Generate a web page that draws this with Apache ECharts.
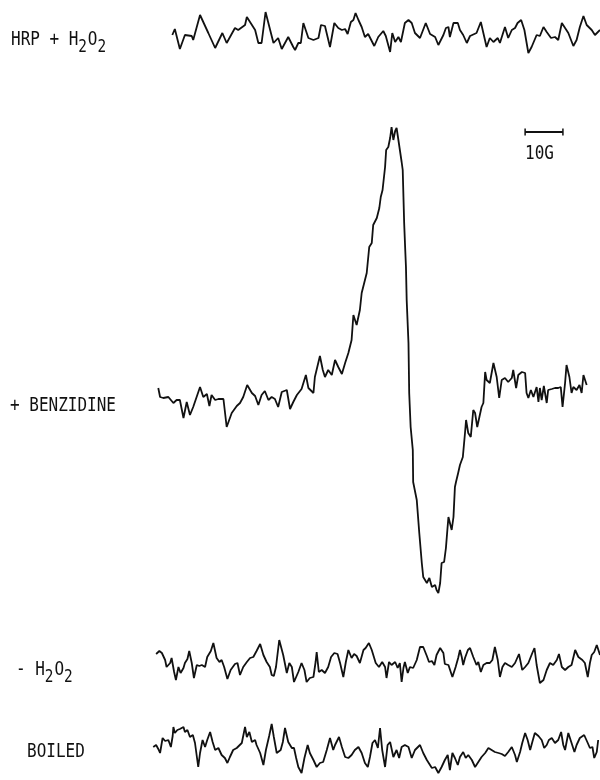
<!DOCTYPE html>
<html>
<head>
<meta charset="utf-8">
<script src="https://cdn.jsdelivr.net/npm/echarts/dist/echarts.min.js"></script>
<style>
html, body { margin: 0; background: #fff; }
#chart { width: 600px; height: 780px; }
</style>
</head>
<body>
<div id="chart"></div>
<script>
// magnetic field (G, from left end of sweep) and signal (arb. units)
const hrpField = [6.2,6.9,8.3,9.7,11.6,12.0,13.9,16.2,16.7,18.1,20.1,21.3,23.6,24.5,26.4,26.9,29.2,30.1,31.0,32.1,34.3,35.6,36.6,38.4,39.8,40.3,41.2,41.9,42.6,44.0,45.4,46.8,47.5,48.6,50.0,51.2,52.3,53.3,54.2,54.9,55.8,56.5,57.1,57.9,58.8,59.7,60.6,61.1,62.3,63.4,64.8,65.5,66.7,67.3,68.1,69.0,69.7,70.8,71.8,72.7,73.6,75.0,76.6,77.8,79.2,80.1,81.5,82.2,82.9,83.3,84.3,85.5,86.1,87.0,88.0,88.9,90.7,91.2,91.9,92.6,93.5,94.4,95.4,96.6,97.2,98.6,99.5,100.5,101.4,102.1,103.1,104.0,105.1,106.0,107.4,108.3,109.3,110.2,111.4,112.5,113.4,114.4,115.3,116.2,117.6,118.5,119.4,120.4,121.3,122.7,123.6,125.0]
const hrpSignal = [0,6,-14,0,-1,-5,20,2,2,-13,2,-8,7,5,10,18,5,-8,-8,23,-8,-3,-14,-2,-12,-15,-8,-8,12,-3,-5,-3,10,9,-12,12,7,5,6,1,13,15,22,15,8,-2,1,0,-11,-2,4,-1,-17,2,-7,-2,-7,12,15,12,2,-3,12,1,-2,-10,0,7,8,-2,12,12,5,0,-8,-1,2,3,13,2,-12,-3,-7,-3,-8,8,-3,5,7,12,15,5,-18,-12,0,-1,8,3,-3,-2,-5,12,7,2,-11,-5,8,19,10,5,0,5]

const benzField = [2.3,2.8,3.7,5.1,6.5,7.4,8.3,9.3,10.2,11.1,12.0,13.9,14.8,15.8,16.5,17.1,18.1,19.0,20.4,21.3,22.7,24.1,25.0,25.9,27.0,28.3,29.2,30.1,31.0,31.9,32.9,33.8,34.7,35.6,36.6,37.0,38.0,38.9,39.8,40.8,42.1,43.3,44.0,44.4,45.4,45.8,47.2,48.0,48.6,49.5,50.5,51.4,52.3,53.3,54.2,55.1,56.0,56.5,57.4,58.3,58.8,60.2,60.9,61.6,62.0,63.0,63.7,64.1,64.6,65.3,65.6,66.2,66.7,67.1,67.6,68.1,68.5,69.0,69.9,70.2,70.6,70.9,71.1,71.3,71.8,72.0,72.4,73.0,73.1,74.1,74.8,75.5,75.9,76.9,77.6,78.3,79.2,79.6,80.1,80.6,81.0,81.7,82.2,82.6,82.9,83.8,84.3,84.7,85.0,85.6,86.1,86.9,87.5,87.8,88.4,89.1,89.8,90.3,90.9,91.5,92.1,92.6,93.1,93.5,94.4,95.4,96.3,97.0,97.7,98.6,99.5,100.5,100.9,101.7,102.3,103.3,104.2,104.6,105.1,105.8,106.5,107.4,107.9,108.3,108.8,109.4,110.2,110.6,111.6,112.5,113.4,114.1,114.6,115.3,115.7,116.5,117.1,117.6,118.5,119.3,119.9,120.4,120.8,121.3]
const benzSignal = [2,-7,-8,-7,-13,-10,-10,-28,-12,-25,-17,3,-7,-4,-16,-5,-10,-9,-9,-37,-23,-16,-13,-7,5,-3,-6,-15,-5,-1,-10,-7,-9,-17,-2,0,0,-19,-12,-5,1,15,2,0,-3,13,34,20,13,20,15,30,23,16,27,37,50,75,65,80,97,117,143,147,165,172,182,193,200,223,240,243,252,263,250,259,262,250,228,220,167,140,123,90,47,-3,-37,-60,-92,-110,-143,-173,-187,-193,-188,-197,-195,-200,-203,-193,-173,-172,-158,-140,-127,-140,-127,-97,-92,-83,-75,-67,-43,-30,-43,-47,-20,-23,-37,-27,-17,-13,18,10,7,27,13,-8,10,12,8,12,20,2,15,18,17,-3,-8,0,-7,3,-12,2,-10,4,-13,0,1,2,2,3,-17,7,25,13,-3,3,0,5,-3,15,17,5]

const noPeroxField = [1.7,2.6,3.3,4.2,4.6,5.6,6.0,6.7,7.2,7.9,8.5,9.3,9.7,10.4,10.9,11.6,12.2,13.0,13.7,14.4,15.3,15.9,16.9,17.6,18.5,19.3,19.9,20.6,21.5,22.4,23.6,24.3,25.0,25.9,26.9,27.8,28.7,29.6,30.6,31.5,32.4,33.3,33.8,34.4,35.0,35.9,37.0,38.0,38.7,39.4,40.0,41.2,42.1,42.9,43.5,44.4,45.4,46.0,46.3,46.9,47.7,48.6,49.5,50.3,51.2,52.1,52.8,53.7,54.4,55.1,56.0,56.7,57.4,58.3,59.3,59.9,60.8,61.6,62.7,63.6,64.5,65.3,65.7,66.4,67.1,68.1,68.8,69.4,69.9,70.4,70.8,71.6,72.2,73.1,74.1,75.0,75.9,76.9,77.5,78.3,79.0,79.6,80.6,81.5,81.9,82.9,84.0,84.9,85.6,86.1,86.6,87.0,87.5,88.3,88.9,89.8,90.7,91.2,91.9,92.6,93.5,94.4,95.1,95.8,96.6,97.2,97.9,98.6,99.5,100.5,101.4,102.5,103.4,104.2,105.1,106.2,106.8,107.4,108.3,109.3,110.2,111.1,112.0,113.0,113.6,114.4,115.3,116.2,117.1,118.1,119.0,120.1,120.8,121.6,122.2,122.7,123.4,124.1,125.0]
const noPeroxSignal = [8,11,9,2,-5,-1,4,-10,-18,-5,-11,-6,-1,3,11,-1,-16,-3,-4,-3,-5,5,11,19,4,0,2,-5,-17,-8,-2,-1,-13,-5,0,4,5,11,18,7,0,-5,-13,-14,-5,22,7,-11,-1,-5,-20,-10,-1,-8,-20,-16,-15,0,10,-10,-8,-11,-5,5,9,8,-1,-15,0,12,4,8,6,-1,12,14,19,12,-1,-5,0,-5,-16,0,-3,0,-6,-1,-20,-6,0,-11,-5,-6,2,15,15,6,0,1,-3,7,14,9,-2,-3,-15,-5,4,12,5,-3,4,12,14,5,-3,0,-10,-3,-1,-1,2,15,2,-15,-5,-1,-3,-5,-1,8,-8,-5,-1,9,14,-3,-21,-18,-8,-1,-3,2,8,-5,-8,-5,-3,12,5,2,-1,-15,-1,7,10,17,7]

const boiledField = [0.9,1.7,2.3,2.8,3.5,4.2,5.1,5.8,6.3,6.5,6.9,7.6,8.3,9.3,9.7,10.4,11.1,11.9,12.5,13.4,13.9,14.6,15.3,15.9,16.7,17.4,18.1,19.0,19.9,20.8,21.5,22.2,23.1,24.1,24.5,25.5,26.4,26.9,27.6,28.3,29.2,29.6,30.6,31.5,32.2,33.1,33.8,34.4,35.2,35.6,36.3,36.9,37.5,38.4,39.4,40.0,40.6,41.2,42.1,42.9,43.8,44.4,45.4,46.3,47.2,48.1,49.1,50.0,50.9,51.4,52.5,53.3,54.2,55.1,56.0,56.9,57.9,58.8,59.7,60.5,61.1,61.8,62.5,63.3,63.9,64.5,65.3,66.0,66.7,67.6,68.5,69.2,69.9,70.8,71.8,72.7,73.6,75.0,75.9,76.9,78.3,79.2,80.1,81.0,81.9,82.7,83.3,84.0,84.7,85.5,86.1,87.0,87.7,88.4,89.4,90.3,91.2,92.1,93.1,94.0,94.9,95.8,96.8,97.7,98.6,99.5,100.5,101.4,101.9,102.8,103.4,104.2,104.9,105.6,106.2,106.9,107.9,108.8,109.5,110.2,110.8,111.6,112.5,113.4,114.2,114.8,115.3,116.2,117.1,117.9,118.5,119.4,120.6,121.6,122.2,122.9,123.4,124.1,124.5]
const boiledSignal = [1,3,-1,-5,10,7,8,1,12,21,15,18,19,21,16,18,11,13,5,-19,-5,8,1,8,16,6,-2,0,-7,-10,-15,-9,-2,0,1,5,21,11,16,6,8,3,-5,-17,-2,12,24,11,-5,-7,-2,6,20,6,0,0,-10,-19,-25,-10,3,-5,-12,-19,-15,-14,-2,10,-2,3,11,1,-9,-10,-7,-2,1,-5,-15,-19,-9,5,8,0,20,-2,-19,3,6,-9,-2,-10,1,3,1,-10,-2,3,-5,-12,-20,-19,-25,-19,-12,-7,-22,-5,-10,-17,-9,-4,-10,-7,-12,-19,-14,-9,-5,0,-2,-4,-5,-6,-8,-4,1,-7,-14,-4,5,15,8,-2,6,15,12,8,0,3,8,10,5,8,16,3,-2,15,5,-4,3,10,13,5,0,1,-10,-4,8]

// 10 G marker
const scaleBarField = [104.2, 114.7]
const scaleBarSignal = [258, 258]

const chart = echarts.init(document.getElementById('chart'))

// one strip per spectrum: [top, height, yMin, yMax]
const strips = [
	[0, 70, -35, 35],
	[100, 520, -230, 290],
	[630, 60, -28, 32],
	[715, 65, -32, 33]
]

const CHAR_W = 9.6
// label made of runs, second item true = subscript
function label(x, y, runs) {
	const out = []
	let n = 0
	runs.forEach(([txt, sub]) => {
		out.push({
			type: 'text',
			x: x + n * CHAR_W,
			y: y + (sub ? 7 : 0),
			scaleX: 0.8,
			silent: true,
			style: {
				text: txt,
				fontFamily: 'DejaVu Sans Mono',
				fontSize: sub ? 18 : 20,
				fill: '#111',
				verticalAlign: 'middle'
			}
		})
		n += txt.length
	})
	return out
}

function trace(i, xs, ys) {
	return {
		type: 'line',
		xAxisIndex: i,
		yAxisIndex: i,
		data: xs.map((x, k) => [x, ys[k]]),
		showSymbol: false,
		symbol: 'none',
		silent: true,
		lineStyle: { color: '#111', width: 1.8 }
	}
}

const option = {
	backgroundColor: '#fff',
	animation: false,
	grid: strips.map(s => ({ left: 150, right: 0, top: s[0], height: s[1] })),
	xAxis: strips.map((s, i) => ({ type: 'value', gridIndex: i, min: 0, max: 125, show: false })),
	yAxis: strips.map((s, i) => ({ type: 'value', gridIndex: i, min: s[2], max: s[3], show: false })),
	series: [
		trace(0, hrpField, hrpSignal),
		trace(1, benzField, benzSignal),
		trace(2, noPeroxField, noPeroxSignal),
		trace(3, boiledField, boiledSignal),
		{
			type: 'line',
			xAxisIndex: 1,
			yAxisIndex: 1,
			data: scaleBarField.map((x, k) => [x, scaleBarSignal[k]]),
			symbol: 'rect',
			symbolSize: [1.5, 7],
			itemStyle: { color: '#111' },
			lineStyle: { color: '#111', width: 2 },
			silent: true
		}
	],
	graphic: [].concat(
		label(11, 40, [['HRP + H', false], ['2', true], ['O', false], ['2', true]]),
		label(10, 406, [['+ BENZIDINE', false]]),
		label(16, 670, [['- H', false], ['2', true], ['O', false], ['2', true]]),
		label(27, 752, [['BOILED', false]]),
		label(525, 154, [['10G', false]])
	)
}

chart.setOption(option)
</script>
</body>
</html>
